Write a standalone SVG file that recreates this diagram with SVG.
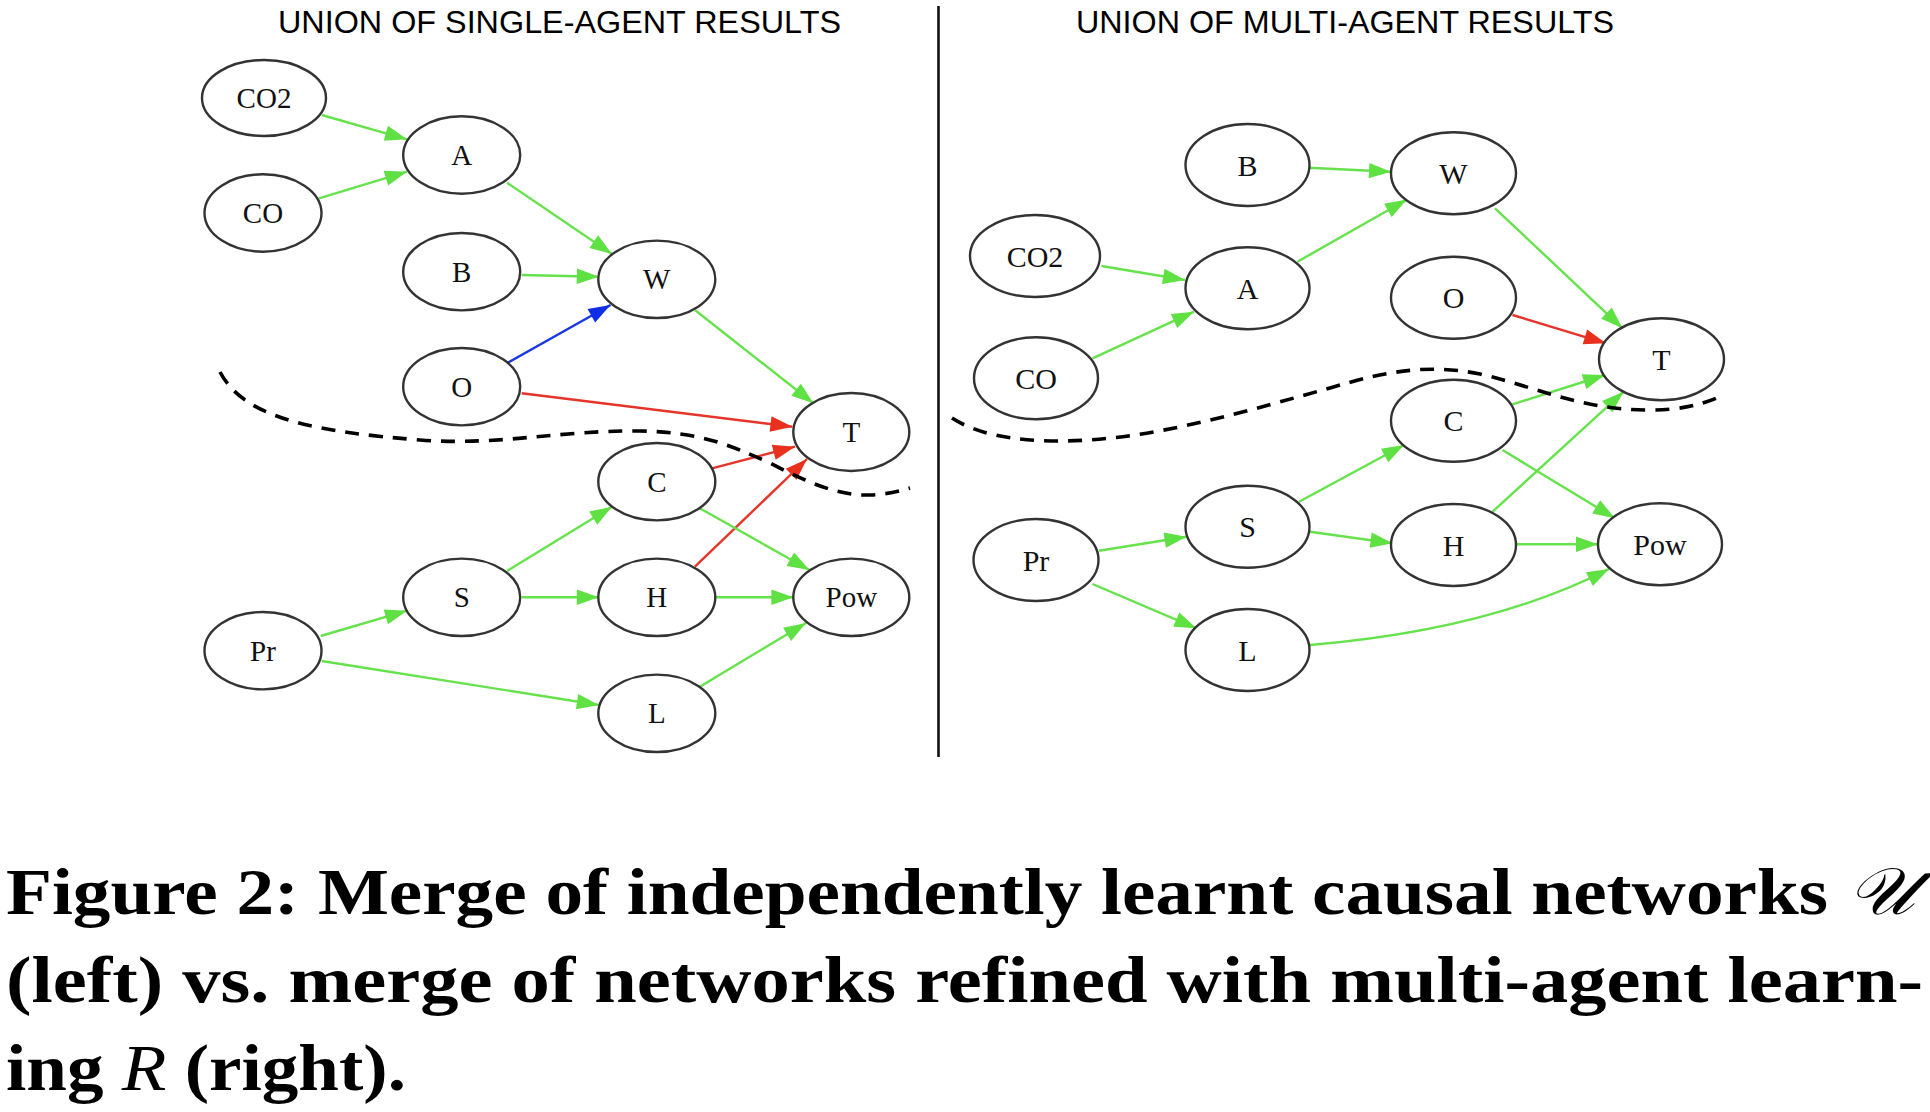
<svg xmlns="http://www.w3.org/2000/svg" width="1930" height="1112" viewBox="0 0 1930 1112">
<style>
.bg{fill:#ffffff}
.node ellipse{fill:#ffffff;stroke:#333333;stroke-width:2.4}
.lbl{font-family:"Liberation Serif","Times New Roman",serif;font-size:29px;text-anchor:middle;fill:#111111}
.rp .lbl{font-size:30px}
.e{fill:none;stroke-width:2.4}
.g{stroke:#66e24c;marker-end:url(#ag)}
.r{stroke:#e5352a;marker-end:url(#ar)}
.b{stroke:#1b37e2;marker-end:url(#ab)}
.dash{fill:none;stroke:#000000;stroke-width:3.6;stroke-dasharray:14 10}
.title{font-family:"Liberation Sans",Arial,sans-serif;font-size:31px;fill:#000000}
.cap{font-family:"Liberation Serif","Times New Roman",serif;font-size:66px;font-weight:bold;fill:#000000}
</style>
<defs>
<marker id="ag" markerUnits="userSpaceOnUse" viewBox="-1 -9 24 18" refX="22" refY="0" markerWidth="24" markerHeight="18" orient="auto"><path d="M0,-7.7 L22,0 L0,7.7 Z" fill="#5fe043"/></marker>
<marker id="ar" markerUnits="userSpaceOnUse" viewBox="-1 -9 24 18" refX="22" refY="0" markerWidth="24" markerHeight="18" orient="auto"><path d="M0,-7.7 L22,0 L0,7.7 Z" fill="#e8301c"/></marker>
<marker id="ab" markerUnits="userSpaceOnUse" viewBox="-1 -9 24 18" refX="22" refY="0" markerWidth="24" markerHeight="18" orient="auto"><path d="M0,-7.7 L22,0 L0,7.7 Z" fill="#0f2ee6"/></marker>
</defs>
<rect class="bg" x="0" y="0" width="1930" height="1112"/>

<text class="title" x="278" y="33" textLength="563" lengthAdjust="spacingAndGlyphs">UNION OF SINGLE-AGENT RESULTS</text>
<text class="title" x="1076" y="33" textLength="538" lengthAdjust="spacingAndGlyphs">UNION OF MULTI-AGENT RESULTS</text>
<line x1="938.5" y1="6" x2="938.5" y2="757" stroke="#111111" stroke-width="2.6"/>

<g id="connectors">
<!-- left panel -->
<line class="e g" x1="321.7" y1="115" x2="407" y2="139.3"/>
<line class="e g" x1="319" y1="198.3" x2="407" y2="171.7"/>
<line class="e g" x1="507" y1="182.7" x2="612" y2="254"/>
<line class="e g" x1="521.7" y1="275" x2="598.8" y2="276.7"/>
<line class="e b" x1="507" y1="363.3" x2="610.5" y2="305"/>
<line class="e g" x1="694.9" y1="310" x2="813.4" y2="403.3"/>
<line class="e r" x1="521.7" y1="393.3" x2="792.4" y2="426.7"/>
<line class="e r" x1="712" y1="468.3" x2="795" y2="446.7"/>
<line class="e r" x1="694.9" y1="566.7" x2="807" y2="459"/>
<line class="e g" x1="507" y1="571" x2="612" y2="506.7"/>
<line class="e g" x1="521.7" y1="597.3" x2="598.8" y2="597.3"/>
<line class="e g" x1="699.8" y1="508.3" x2="809.5" y2="570"/>
<line class="e g" x1="715.4" y1="597.3" x2="793.4" y2="597.3"/>
<line class="e g" x1="699.8" y1="686.7" x2="806" y2="623"/>
<line class="e g" x1="320.7" y1="636" x2="407" y2="610.7"/>
<line class="e g" x1="321.7" y1="661" x2="598.8" y2="705"/>
<!-- right panel -->
<line class="e g" x1="1309" y1="167.7" x2="1391" y2="171.7"/>
<line class="e g" x1="1101.5" y1="266" x2="1185" y2="280"/>
<line class="e g" x1="1092.5" y1="358.3" x2="1194" y2="311.7"/>
<line class="e g" x1="1297.5" y1="261.7" x2="1407" y2="199.5"/>
<line class="e g" x1="1495" y1="208.3" x2="1622.5" y2="328.3"/>
<line class="e r" x1="1512.5" y1="315" x2="1606" y2="343.3"/>
<line class="e g" x1="1512.5" y1="404.3" x2="1605" y2="375"/>
<line class="e g" x1="1492.5" y1="511.7" x2="1623.5" y2="391.8"/>
<line class="e g" x1="1299" y1="501.7" x2="1404" y2="445"/>
<line class="e g" x1="1310" y1="531.7" x2="1392.5" y2="543.3"/>
<line class="e g" x1="1502.5" y1="450" x2="1615" y2="518.3"/>
<line class="e g" x1="1516.5" y1="544.3" x2="1598" y2="544.3"/>
<line class="e g" x1="1099" y1="550.7" x2="1186.5" y2="536.7"/>
<line class="e g" x1="1092.5" y1="584" x2="1196.5" y2="628.3"/>
<path class="e g" d="M1310,645 Q1490,630 1609,569"/>
<!-- dashed separators -->
<path class="dash" d="M220,372 C245,420 320,432 420,440 C500,446 560,430 640,431 C700,432 730,445 770,463 C810,484 840,496 870,495 C890,494 900,491 910,488"/>
<path class="dash" d="M952,418 C975,433 1010,441 1060,441 C1150,441 1250,410 1330,388 C1390,370 1430,364 1480,374 C1540,388 1580,410 1650,410 C1680,410 1700,405 1717,398"/>
</g>

<g class="lp">
<g id="L-CO2" class="node"><ellipse cx="264" cy="98" rx="62" ry="38"/><text class="lbl" x="264" y="108">CO2</text></g>
<g id="L-A" class="node"><ellipse cx="461.7" cy="155" rx="58.5" ry="38.7"/><text class="lbl" x="461.7" y="165">A</text></g>
<g id="L-CO" class="node"><ellipse cx="263" cy="213" rx="58.5" ry="38.7"/><text class="lbl" x="263" y="223">CO</text></g>
<g id="L-B" class="node"><ellipse cx="461.7" cy="271.7" rx="58.5" ry="38.7"/><text class="lbl" x="461.7" y="281.7">B</text></g>
<g id="L-W" class="node"><ellipse cx="656.8" cy="279.3" rx="58.5" ry="38.7"/><text class="lbl" x="656.8" y="289.3">W</text></g>
<g id="L-O" class="node"><ellipse cx="461.7" cy="386.7" rx="58.5" ry="38.7"/><text class="lbl" x="461.7" y="396.7">O</text></g>
<g id="L-T" class="node"><ellipse cx="851.3" cy="432" rx="58" ry="39"/><text class="lbl" x="851.3" y="442">T</text></g>
<g id="L-C" class="node"><ellipse cx="656.8" cy="481.7" rx="58.5" ry="38.7"/><text class="lbl" x="656.8" y="491.7">C</text></g>
<g id="L-S" class="node"><ellipse cx="461.7" cy="597.3" rx="58.5" ry="38.7"/><text class="lbl" x="461.7" y="607.3">S</text></g>
<g id="L-H" class="node"><ellipse cx="656.8" cy="597.3" rx="58.5" ry="38.7"/><text class="lbl" x="656.8" y="607.3">H</text></g>
<g id="L-Pow" class="node"><ellipse cx="851.3" cy="597.3" rx="58" ry="38.7"/><text class="lbl" x="851.3" y="607.3">Pow</text></g>
<g id="L-Pr" class="node"><ellipse cx="263" cy="650.7" rx="58.5" ry="38.7"/><text class="lbl" x="263" y="660.7">Pr</text></g>
<g id="L-L" class="node"><ellipse cx="656.8" cy="713.3" rx="58.5" ry="38.7"/><text class="lbl" x="656.8" y="723.3">L</text></g>
</g>

<g class="rp">
<g id="R-B" class="node"><ellipse cx="1247.5" cy="165" rx="62" ry="41"/><text class="lbl" x="1247.5" y="175.5">B</text></g>
<g id="R-W" class="node"><ellipse cx="1453.5" cy="173.3" rx="62.5" ry="41"/><text class="lbl" x="1453.5" y="183.8">W</text></g>
<g id="R-CO2" class="node"><ellipse cx="1035" cy="256" rx="65" ry="41"/><text class="lbl" x="1035" y="266.5">CO2</text></g>
<g id="R-A" class="node"><ellipse cx="1247.5" cy="288.3" rx="62" ry="41"/><text class="lbl" x="1247.5" y="298.8">A</text></g>
<g id="R-O" class="node"><ellipse cx="1453.5" cy="297.7" rx="62.5" ry="41"/><text class="lbl" x="1453.5" y="308.2">O</text></g>
<g id="R-T" class="node"><ellipse cx="1661.5" cy="359.3" rx="62.5" ry="41"/><text class="lbl" x="1661.5" y="369.8">T</text></g>
<g id="R-CO" class="node"><ellipse cx="1036" cy="378.3" rx="62" ry="41"/><text class="lbl" x="1036" y="388.8">CO</text></g>
<g id="R-C" class="node"><ellipse cx="1453.5" cy="420.7" rx="62.5" ry="41"/><text class="lbl" x="1453.5" y="431.2">C</text></g>
<g id="R-S" class="node"><ellipse cx="1247.5" cy="526.7" rx="62" ry="41"/><text class="lbl" x="1247.5" y="537.2">S</text></g>
<g id="R-H" class="node"><ellipse cx="1453.5" cy="545" rx="62.5" ry="41"/><text class="lbl" x="1453.5" y="555.5">H</text></g>
<g id="R-Pow" class="node"><ellipse cx="1660" cy="544.3" rx="62" ry="41"/><text class="lbl" x="1660" y="554.8">Pow</text></g>
<g id="R-Pr" class="node"><ellipse cx="1036" cy="560" rx="62.5" ry="41"/><text class="lbl" x="1036" y="570.5">Pr</text></g>
<g id="R-L" class="node"><ellipse cx="1247.5" cy="650" rx="62" ry="41"/><text class="lbl" x="1247.5" y="660.5">L</text></g>
</g>

<g id="caption">
<text class="cap" x="6" y="914" textLength="1908" lengthAdjust="spacingAndGlyphs">Figure 2: Merge of independently learnt causal networks <tspan font-family="'DejaVu Serif','DejaVu Sans','Noto Sans',serif" font-weight="normal" font-style="italic">𝒰</tspan></text>
<text class="cap" x="6" y="1002" textLength="1917" lengthAdjust="spacingAndGlyphs">(left) vs. merge of networks refined with multi-agent learn-</text>
<text class="cap" x="6" y="1090" textLength="400" lengthAdjust="spacingAndGlyphs">ing <tspan font-style="italic" font-weight="normal">R</tspan> (right).</text>
</g>
</svg>
